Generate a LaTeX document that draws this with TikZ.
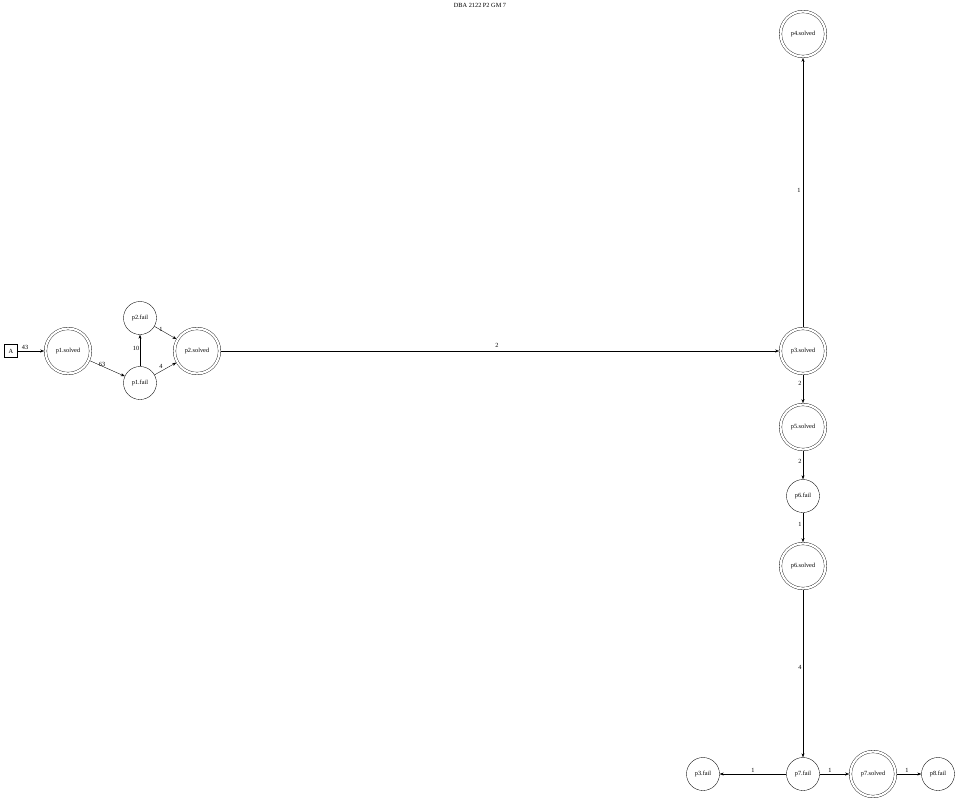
\documentclass[tikz,border=0pt]{standalone}
\usepackage{fontspec}
\setmainfont{Liberation Serif}
\usetikzlibrary{arrows.meta}
\begin{document}
\begin{tikzpicture}[x=1pt,y=-1pt,
  every node/.style={font=\fontsize{6.3}{7}\selectfont},
  st/.style={circle,draw,line width=0.35pt,minimum size=33pt,inner sep=0pt},
  dst/.style={circle,draw,line width=0.35pt,double,double distance=2.2pt,minimum size=45pt,inner sep=0pt,outer sep=1.3pt},
  box/.style={rectangle,draw,line width=0.35pt,minimum size=13pt,inner sep=0pt},
  ed/.style={draw,line width=0.35pt,-{Stealth[length=4pt,width=3pt]}},
  lb/.style={inner sep=1pt}]
\useasboundingbox (0,0) rectangle (960,800);
\node (title) at (480,5) {DBA 2122 P2 GM 7};
\node[box] (A) at (11,351) {A};
\node[dst] (p1s) at (68,351) {p1.solved};
\node[st] (p2f) at (140,318) {p2.fail};
\node[st] (p1f) at (140,383) {p1.fail};
\node[dst] (p2s) at (197,351) {p2.solved};
\node[dst] (p3s) at (803,351) {p3.solved};
\node[dst] (p4s) at (803,34) {p4.solved};
\node[dst] (p5s) at (803,427) {p5.solved};
\node[st] (p6f) at (803,496) {p6.fail};
\node[dst] (p6s) at (803,566) {p6.solved};
\node[st] (p7f) at (803,774) {p7.fail};
\node[st] (p3f) at (703,774) {p3.fail};
\node[dst] (p7s) at (873,774) {p7.solved};
\node[st] (p8f) at (938,774) {p8.fail};

\draw[ed] (A) -- (p1s);
\node[lb] (l1) at (25,347) {43};
\draw[ed] (p1s) -- (p1f);
\node[lb] (l2) at (102,364) {63};
\draw[ed] (p1f) -- (p2f);
\node[lb] (l3) at (136,348) {10};
\draw[ed] (p2f) -- (p2s);
\node[lb] (l4) at (161,329) {1};
\draw[ed] (p1f) -- (p2s);
\node[lb] (l5) at (161,366) {4};
\draw[ed] (p2s) -- (p3s);
\node[lb] (l6) at (497,345) {2};
\draw[ed] (p3s) -- (p4s);
\node[lb] (l7) at (799,190) {1};
\draw[ed] (p3s) -- (p5s);
\node[lb] (l8) at (800,383) {2};
\draw[ed] (p5s) -- (p6f);
\node[lb] (l9) at (800,461) {2};
\draw[ed] (p6f) -- (p6s);
\node[lb] (l10) at (800,524) {1};
\draw[ed] (p6s) -- (p7f);
\node[lb] (l11) at (800,667) {4};
\draw[ed] (p7f) -- (p3f);
\node[lb] (l12) at (753,770) {1};
\draw[ed] (p7f) -- (p7s);
\node[lb] (l13) at (830,770) {1};
\draw[ed] (p7s) -- (p8f);
\node[lb] (l14) at (907,770) {1};
\end{tikzpicture}
\end{document}
